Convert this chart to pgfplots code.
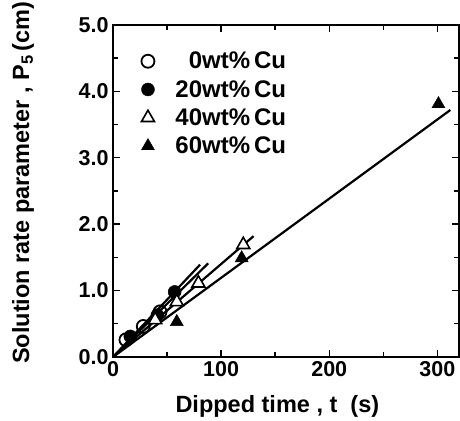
\documentclass[border=0pt]{standalone}
\usepackage{fontspec}
\setmainfont{Liberation Sans}
\usepackage{pgfplots}
\pgfplotsset{compat=1.18}
\usetikzlibrary{calc}
\begin{document}
\begin{tikzpicture}
\begin{axis}[
  name=ax,
  scale only axis,
  width=346pt, height=332pt,
  xmin=0, xmax=320, ymin=0, ymax=5,
  xtick={0,100,200,300},
  minor xtick={50,150,250},
  ytick={0,1,2,3,4,5},
  minor ytick={0.5,1.5,2.5,3.5,4.5},
  tick align=inside,
  xtick pos=both, ytick pos=both,
  major tick length=7pt, minor tick length=5pt,
  every tick/.style={black, line width=1.4pt},
  axis line style={line width=2.8pt},
  /pgf/number format/assume math mode=true,
  yticklabel style={/pgf/number format/fixed, /pgf/number format/fixed zerofill, /pgf/number format/precision=1, xshift=-1pt},
  ticklabel style={font=\fontsize{21.5}{23}\selectfont\bfseries},
  xticklabel style={yshift=-1pt},
  xlabel={Dipped time , t\ \ (s)},
  ylabel={Solution rate parameter , P$_{\mathbf{5}}$\,(cm)},
  label style={font=\fontsize{23.5}{25}\selectfont\bfseries},
  xlabel style={at={(axis description cs:0.475,-0.166)}, anchor=base},
  ylabel style={at={(axis description cs:-0.26,0.525)}, anchor=center},
  legend style={at={(axis description cs:0.073,0.931)}, anchor=north west, draw=none, fill=none,
     font=\fontsize{24}{26}\selectfont\bfseries, row sep=6pt,
     /tikz/every odd column/.append style={column sep=19pt}},
  legend cell align=left,
  clip=false,
]
% fitted lines
\addplot[black, line width=2.2pt, forget plot] coordinates {(0,0) (80.5,1.39)};
\addplot[black, line width=2.2pt, forget plot] coordinates {(0,0) (88,1.41)};
\addplot[black, line width=2.2pt, forget plot] coordinates {(0,0) (130,1.82)};
\addplot[black, line width=2.2pt, forget plot] coordinates {(0,0) (312,3.72)};
% data
\addplot[only marks, mark=o, mark size=6.5pt, mark options={line width=1.8pt, fill=white, draw=black}]
  coordinates {(12,0.26) (28,0.46) (43.5,0.68)};
\addlegendentry{\hphantom{2}0wt\%\,Cu}
\addplot[only marks, mark=*, mark size=6.5pt, mark options={fill=black, draw=black}]
  coordinates {(16,0.31) (41,0.63) (57,0.98)};
\addlegendentry{20wt\%\,Cu}
\addplot[only marks, mark=triangle*, mark size=7.5pt, mark options={line width=1.6pt, fill=white, draw=black}]
  coordinates {(39,0.56) (59,0.83) (79,1.11) (120.5,1.69)};
\addlegendentry{40wt\%\,Cu}
\addplot[only marks, mark=triangle*, mark size=7.5pt, mark options={fill=black, draw=black}]
  coordinates {(59,0.53) (119,1.49) (301,3.81)};
\addlegendentry{60wt\%\,Cu}
\end{axis}
\pgfresetboundingbox
\path ($(ax.south west)+(-113pt,-64pt)$) rectangle ($(ax.north east)+(1pt,25pt)$);
\end{tikzpicture}
\end{document}
